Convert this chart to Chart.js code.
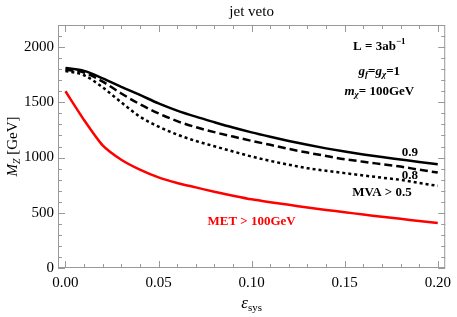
<!DOCTYPE html>
<html>
<head>
<meta charset="utf-8">
<script src="https://cdn.jsdelivr.net/npm/chart.js@4/dist/chart.umd.min.js"></script>
<style>
  html, body { margin: 0; padding: 0; background: #fff; }
  #wrap { width: 457px; height: 317px; }
</style>
</head>
<body>
<div id="wrap"><canvas id="chart" width="457" height="317"></canvas></div>
<script>
// systematic uncertainty values (x axis)
const epsSys = [0, 0.01, 0.02, 0.03, 0.04, 0.05, 0.06, 0.07, 0.08, 0.09, 0.10,
                0.11, 0.12, 0.13, 0.14, 0.15, 0.16, 0.17, 0.18, 0.19, 0.20];
// reach in M_Z [GeV]
const mva09 = [1810, 1785, 1717, 1640, 1567, 1490, 1425, 1370, 1320, 1272, 1228,
               1188, 1150, 1115, 1083, 1054, 1028, 1004, 982, 960, 940];
const mva08 = [1795, 1770, 1687, 1580, 1483, 1400, 1330, 1275, 1230, 1190, 1151,
               1115, 1078, 1045, 1014, 985, 962, 940, 918, 890, 864];
const mva05 = [1784, 1745, 1635, 1500, 1370, 1280, 1208, 1150, 1102, 1055, 1009,
               970, 935, 904, 880, 859, 838, 818, 798, 770, 744];
const met100 = [1600, 1340, 1110, 980, 890, 820, 770, 730, 690, 655, 622,
                596, 572, 548, 526, 505, 484, 464, 445, 426, 407];

const xTicks = [0, 0.05, 0.10, 0.15, 0.20];
const yTicks = [0, 500, 1000, 1500, 2000];

const pts = arr => arr.map((v, i) => ({ x: epsSys[i], y: v }));

const serif = '"Liberation Serif", "DejaVu Serif", serif';

// draw a row of text pieces (sub/superscripts), centred on x
function richText(ctx, parts, x, y) {
  let w = 0;
  parts.forEach(p => { ctx.font = p.f; w += ctx.measureText(p.t).width; });
  let cx = x - w / 2;
  parts.forEach(p => {
    ctx.font = p.f;
    ctx.fillStyle = p.c || '#000';
    ctx.fillText(p.t, cx, y + (p.dy || 0));
    cx += ctx.measureText(p.t).width;
  });
}

const frame = {
  id: 'frame',
  afterDraw(chart) {
    const ctx = chart.ctx;
    const a = chart.chartArea;
    const xs = chart.scales.x, ys = chart.scales.y;
    ctx.save();
    ctx.strokeStyle = '#999';
    ctx.lineWidth = 1;
    ctx.strokeRect(a.left + 0.5, a.top + 0.5, a.right - a.left - 1, a.bottom - a.top - 1);
    ctx.beginPath();
    for (let i = 0; i <= 20; i++) {
      const px = Math.round(xs.getPixelForValue(i / 100)) + 0.5;
      const len = i % 5 === 0 ? 7 : 4;
      ctx.moveTo(px, a.bottom); ctx.lineTo(px, a.bottom - len);
      ctx.moveTo(px, a.top); ctx.lineTo(px, a.top + len);
    }
    for (let v = 0; v <= 2200; v += 100) {
      const py = Math.round(ys.getPixelForValue(v)) + 0.5;
      const len = v % 500 === 0 ? 7 : 4;
      ctx.moveTo(a.left, py); ctx.lineTo(a.left + len, py);
      ctx.moveTo(a.right, py); ctx.lineTo(a.right - len, py);
    }
    ctx.stroke();

    ctx.textBaseline = 'middle';
    ctx.textAlign = 'left';
    // title
    richText(ctx, [{ t: 'jet veto', f: '15px ' + serif }], (a.left + a.right) / 2, 12);
    // x axis title
    richText(ctx, [
      { t: 'ε', f: 'italic 17px ' + serif },
      { t: 'sys', f: '11px ' + serif, dy: 4 }
    ], (a.left + a.right) / 2, 304);
    // y axis title
    ctx.save();
    ctx.translate(13, (a.top + a.bottom) / 2);
    ctx.rotate(-Math.PI / 2);
    richText(ctx, [
      { t: 'M', f: 'italic 15px ' + serif },
      { t: 'Z', f: 'italic 10px ' + serif, dy: 4 },
      { t: ' [GeV]', f: '15px ' + serif }
    ], 0, 0);
    ctx.restore();

    const B = 'bold 13px ' + serif, BI = 'italic bold 13px ' + serif;
    const s = 'bold 9px ' + serif, si = 'italic bold 9px ' + serif;
    const X = v => xs.getPixelForValue(v), Y = v => ys.getPixelForValue(v);
    richText(ctx, [{ t: 'L = 3ab', f: B }, { t: '−1', f: s, dy: -5 }], X(0.1686), Y(2003));
    richText(ctx, [
      { t: 'g', f: BI }, { t: 'f', f: si, dy: 3 }, { t: '=', f: B },
      { t: 'g', f: BI }, { t: 'χ', f: si, dy: 3 }, { t: '=1', f: B }
    ], X(0.1686), Y(1777));
    richText(ctx, [{ t: 'm', f: BI }, { t: 'χ', f: si, dy: 3 }, { t: '= 100GeV', f: B }], X(0.1686), Y(1597));
    richText(ctx, [{ t: '0.9', f: B }], X(0.185), Y(1040));
    richText(ctx, [{ t: '0.8', f: B }], X(0.185), Y(837));
    richText(ctx, [{ t: 'MVA > 0.5', f: B }], X(0.170), Y(683));
    richText(ctx, [{ t: 'MET > 100GeV', f: B, c: '#ff0000' }], X(0.100), Y(419));
    ctx.restore();
  }
};

new Chart(document.getElementById('chart').getContext('2d'), {
  type: 'line',
  data: {
    datasets: [
      { label: '0.9', data: pts(mva09), borderColor: '#000', borderWidth: 2.5, cubicInterpolationMode: 'monotone' },
      { label: '0.8', data: pts(mva08), borderColor: '#000', borderWidth: 2.5, borderDash: [8, 4], cubicInterpolationMode: 'monotone' },
      { label: 'MVA > 0.5', data: pts(mva05), borderColor: '#000', borderWidth: 2.5, borderDash: [3, 3], cubicInterpolationMode: 'monotone' },
      { label: 'MET > 100GeV', data: pts(met100), borderColor: '#ff0000', borderWidth: 2.5, tension: 0.2 }
    ]
  },
  options: {
    responsive: false,
    animation: false,
    devicePixelRatio: 1,
    layout: { padding: { top: 25, right: 6, left: 0, bottom: 0 } },
    elements: { point: { radius: 0 }, line: { fill: false } },
    plugins: { legend: { display: false }, tooltip: { enabled: false } },
    scales: {
      x: {
        type: 'linear', min: -0.004, max: 0.204,
        grid: { display: false, drawTicks: false }, border: { display: false },
        afterBuildTicks: s => { s.ticks = xTicks.map(v => ({ value: v })); },
        afterFit: s => { s.height = 49; },
        ticks: { color: '#000', padding: 6, font: { family: serif, size: 15 },
                 callback: v => v.toFixed(2) }
      },
      y: {
        min: 0, max: 2200,
        grid: { display: false, drawTicks: false }, border: { display: false },
        afterBuildTicks: s => { s.ticks = yTicks.map(v => ({ value: v })); },
        afterFit: s => { s.width = 58; },
        ticks: { color: '#000', padding: 4, font: { family: serif, size: 15 },
                 callback: v => String(v) }
      }
    }
  },
  plugins: [frame]
});
</script>
</body>
</html>
